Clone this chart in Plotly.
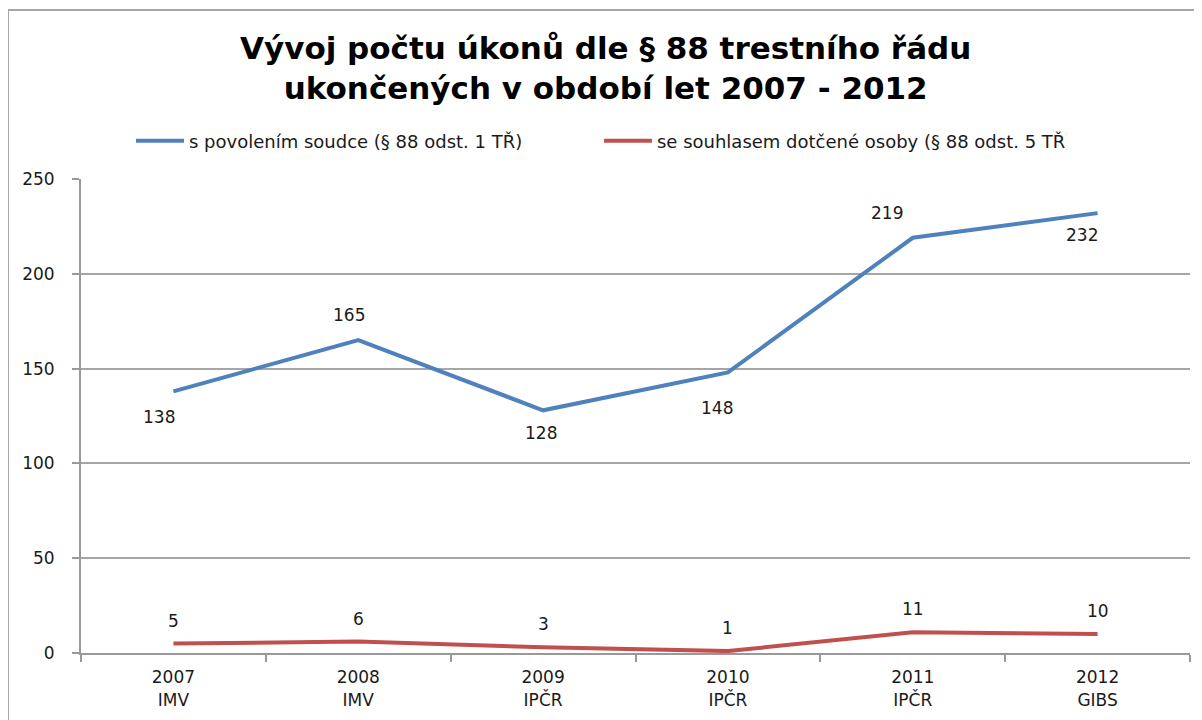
import plotly.graph_objects as go

years = ["2007", "2008", "2009", "2010", "2011", "2012"]
units = ["IMV", "IMV", "IPČR", "IPČR", "IPČR", "GIBS"]
categories = [f"{y}<br>{u}" for y, u in zip(years, units)]

judge_values = [138, 165, 128, 148, 219, 232]
consent_values = [5, 6, 3, 1, 11, 10]

series_names = ["s povolením soudce (§ 88 odst. 1 TŘ)",
                "se souhlasem dotčené osoby (§ 88 odst. 5 TŘ)"]
title_text = "Vývoj počtu úkonů dle § 88 trestního řádu<br>ukončených v období let 2007 - 2012"

blue = "#4f81bd"
red = "#c0504d"
label_font = dict(family="DejaVu Sans", size=17, color="#1a1a1a")

fig = go.Figure()
fig.add_trace(go.Scatter(x=categories, y=judge_values, mode="lines", name=series_names[0],
                         line=dict(color=blue, width=4)))
fig.add_trace(go.Scatter(x=categories, y=consent_values, mode="lines", name=series_names[1],
                         line=dict(color=red, width=4)))

# label placement style: above (+) or below (-) the point, plus horizontal nudge
judge_label_dy = [-26, 25, -23, -36, 25, -22]
judge_label_dx = [-14, -9, -2, -11, -26, -16]
for c, v, dy, dx in zip(categories, judge_values, judge_label_dy, judge_label_dx):
    fig.add_annotation(x=c, y=v, text=str(v), showarrow=False, yshift=dy, xshift=dx,
                       font=label_font)
for c, v in zip(categories, consent_values):
    fig.add_annotation(x=c, y=v, text=str(v), showarrow=False, yshift=23, font=label_font)

# title
fig.add_annotation(text=title_text, xref="paper", yref="paper", x=0.4725, y=1.235,
                   xanchor="center", yanchor="middle", showarrow=False, align="center",
                   font=dict(family="DejaVu Sans", size=31, color="#000000", weight="bold"))

# chart area border
fig.add_shape(type="rect", xref="paper", yref="paper", x0=-0.0658, x1=1.05, y0=-0.3, y1=1.3565,
              line=dict(color="#a6a6a6", width=2), layer="below")

fig.update_layout(
    width=1194, height=712,
    margin=dict(l=73, r=12, t=171, b=67, autoexpand=False),
    paper_bgcolor="white", plot_bgcolor="white",
    legend=dict(orientation="h", xref="container", yref="container", x=0.103, y=0.813,
                xanchor="left", yanchor="middle", entrywidth=405, entrywidthmode="pixels",
                font=dict(family="DejaVu Sans", size=18, color="#1a1a1a"),
                itemwidth=48, bgcolor="rgba(0,0,0,0)", tracegroupgap=0),
    showlegend=True,
)
fig.update_xaxes(type="category", range=[-0.5, 5.5], autorange=False, automargin=False,
                 showline=True, linecolor="#999999", linewidth=2,
                 ticks="outside", tickson="boundaries", ticklen=7, tickcolor="#999999",
                 tickwidth=2, showgrid=False, ticklabelstandoff=8,
                 tickfont=dict(family="DejaVu Sans", size=17, color="#1a1a1a"))
fig.update_yaxes(range=[0, 250], dtick=50, automargin=False, showline=True,
                 linecolor="#999999", linewidth=2,
                 ticks="outside", ticklen=7, tickcolor="#999999", tickwidth=2,
                 showgrid=True, gridcolor="#a6a6a6", gridwidth=1.5, zeroline=False,
                 ticklabelstandoff=14,
                 tickfont=dict(family="DejaVu Sans", size=17, color="#1a1a1a"))

fig.write_html("out.html")
